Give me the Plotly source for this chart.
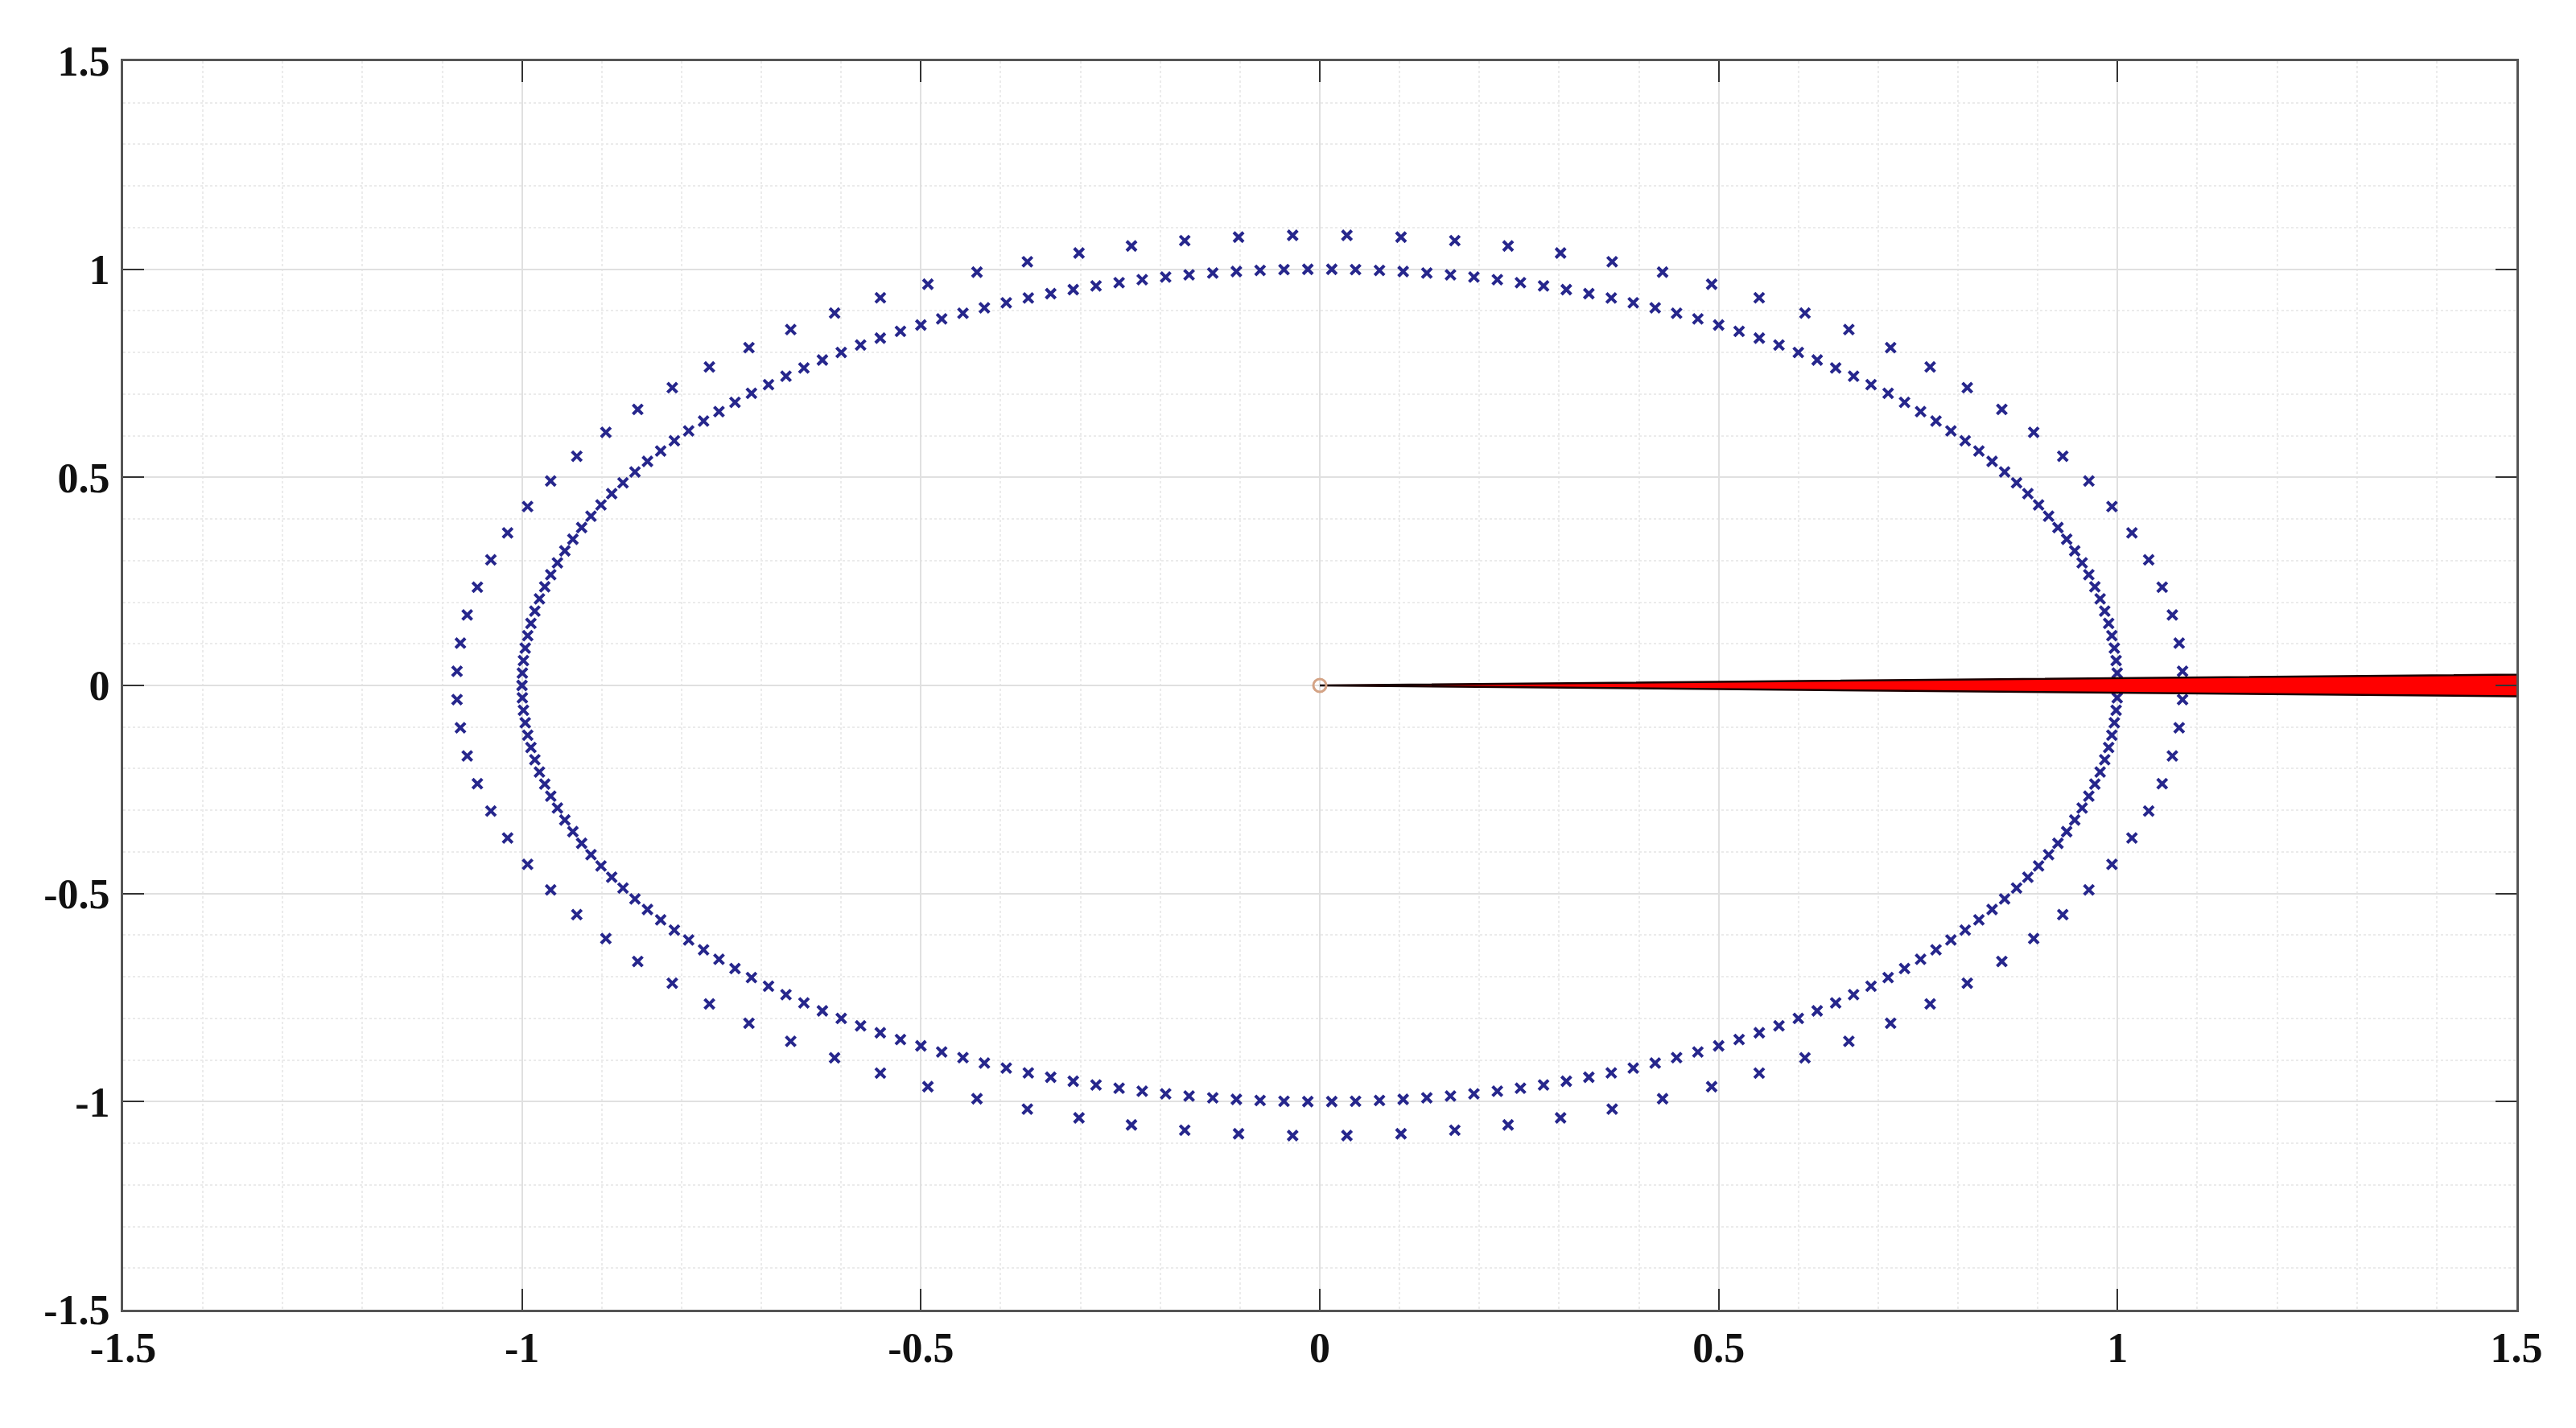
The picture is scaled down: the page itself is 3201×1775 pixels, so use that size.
import numpy as np
import plotly.graph_objects as go

# ── Data ─────────────────────────────────────────────────────────────────────

# inner ring (unit circle), angle of every marker in degrees
INNER_RADIUS = 1.0
INNER_ANGLES_DEG = [
    0.00, 1.71, 3.43, 5.14, 6.86, 8.57, 10.29,
    12.00, 13.71, 15.43, 17.14, 18.86, 20.57, 22.29,
    24.00, 25.71, 27.43, 29.14, 30.86, 32.57, 34.29,
    36.00, 37.71, 39.43, 41.14, 42.86, 44.57, 46.29,
    48.00, 49.71, 51.43, 53.14, 54.86, 56.57, 58.29,
    60.00, 61.71, 63.43, 65.14, 66.86, 68.57, 70.29,
    72.00, 73.71, 75.43, 77.14, 78.86, 80.57, 82.29,
    84.00, 85.71, 87.43, 89.14, 90.86, 92.57, 94.29,
    96.00, 97.71, 99.43, 101.14, 102.86, 104.57, 106.29,
    108.00, 109.71, 111.43, 113.14, 114.86, 116.57, 118.29,
    120.00, 121.71, 123.43, 125.14, 126.86, 128.57, 130.29,
    132.00, 133.71, 135.43, 137.14, 138.86, 140.57, 142.29,
    144.00, 145.71, 147.43, 149.14, 150.86, 152.57, 154.29,
    156.00, 157.71, 159.43, 161.14, 162.86, 164.57, 166.29,
    168.00, 169.71, 171.43, 173.14, 174.86, 176.57, 178.29,
    180.00, 181.71, 183.43, 185.14, 186.86, 188.57, 190.29,
    192.00, 193.71, 195.43, 197.14, 198.86, 200.57, 202.29,
    204.00, 205.71, 207.43, 209.14, 210.86, 212.57, 214.29,
    216.00, 217.71, 219.43, 221.14, 222.86, 224.57, 226.29,
    228.00, 229.71, 231.43, 233.14, 234.86, 236.57, 238.29,
    240.00, 241.71, 243.43, 245.14, 246.86, 248.57, 250.29,
    252.00, 253.71, 255.43, 257.14, 258.86, 260.57, 262.29,
    264.00, 265.71, 267.43, 269.14, 270.86, 272.57, 274.29,
    276.00, 277.71, 279.43, 281.14, 282.86, 284.57, 286.29,
    288.00, 289.71, 291.43, 293.14, 294.86, 296.57, 298.29,
    300.00, 301.71, 303.43, 305.14, 306.86, 308.57, 310.29,
    312.00, 313.71, 315.43, 317.14, 318.86, 320.57, 322.29,
    324.00, 325.71, 327.43, 329.14, 330.86, 332.57, 334.29,
    336.00, 337.71, 339.43, 341.14, 342.86, 344.57, 346.29,
    348.00, 349.71, 351.43, 353.14, 354.86, 356.57, 358.29,
]

# outer ring, sparser markers
OUTER_RADIUS = 1.082
OUTER_ANGLES_DEG = [
    1.8, 5.4, 9.0, 12.6, 16.2, 19.8, 23.4, 27.0, 30.6, 34.2,
    37.8, 41.4, 45.0, 48.6, 52.2, 55.8, 59.4, 63.0, 66.6, 70.2,
    73.8, 77.4, 81.0, 84.6, 88.2, 91.8, 95.4, 99.0, 102.6, 106.2,
    109.8, 113.4, 117.0, 120.6, 124.2, 127.8, 131.4, 135.0, 138.6, 142.2,
    145.8, 149.4, 153.0, 156.6, 160.2, 163.8, 167.4, 171.0, 174.6, 178.2,
    181.8, 185.4, 189.0, 192.6, 196.2, 199.8, 203.4, 207.0, 210.6, 214.2,
    217.8, 221.4, 225.0, 228.6, 232.2, 235.8, 239.4, 243.0, 246.6, 250.2,
    253.8, 257.4, 261.0, 264.6, 268.2, 271.8, 275.4, 279.0, 282.6, 286.2,
    289.8, 293.4, 297.0, 300.6, 304.2, 307.8, 311.4, 315.0, 318.6, 322.2,
    325.8, 329.4, 333.0, 336.6, 340.2, 343.8, 347.4, 351.0, 354.6, 358.2,
]

# red wedge from the origin: edge angles (deg) and length (runs off the axes)
WEDGE_ANGLES_DEG = [1.0, -1.0]
WEDGE_LENGTH = 2.0

ORIGIN = [0.0, 0.0]

X_TICKS = [-1.5, -1.0, -0.5, 0.0, 0.5, 1.0, 1.5]
X_TICK_LABELS = ["-1.5", "-1", "-0.5", "0", "0.5", "1", "1.5"]
Y_TICKS = [-1.5, -1.0, -0.5, 0.0, 0.5, 1.0, 1.5]
Y_TICK_LABELS = ["-1.5", "-1", "-0.5", "0", "0.5", "1", "1.5"]


# ── Helpers ──────────────────────────────────────────────────────────────────

def polar_to_xy(radius, angles_deg):
    a = np.radians(np.asarray(angles_deg, dtype=float))
    return radius * np.cos(a), radius * np.sin(a)


BLUE = "#26268c"
TICK_FONT = dict(family="Liberation Serif", size=52, color="#111111", weight="bold")

inner_x, inner_y = polar_to_xy(INNER_RADIUS, INNER_ANGLES_DEG)
outer_x, outer_y = polar_to_xy(OUTER_RADIUS, OUTER_ANGLES_DEG)
edge_x, edge_y = polar_to_xy(WEDGE_LENGTH, WEDGE_ANGLES_DEG)
wedge_x = [ORIGIN[0], edge_x[0], edge_x[1], ORIGIN[0]]
wedge_y = [ORIGIN[1], edge_y[0], edge_y[1], ORIGIN[1]]

fig = go.Figure()

marker_style = dict(symbol="x-thin", size=12, line=dict(color=BLUE, width=4), color=BLUE)

fig.add_trace(go.Scatter(x=outer_x, y=outer_y, mode="markers", marker=marker_style,
                         showlegend=False, hoverinfo="skip"))
fig.add_trace(go.Scatter(x=inner_x, y=inner_y, mode="markers", marker=marker_style,
                         showlegend=False, hoverinfo="skip"))

fig.add_trace(go.Scatter(x=wedge_x, y=wedge_y, mode="lines", fill="toself",
                         fillcolor="#ff0000", line=dict(color="#1a0000", width=2.5),
                         showlegend=False, hoverinfo="skip"))

fig.add_trace(go.Scatter(x=[ORIGIN[0]], y=[ORIGIN[1]], mode="markers",
                         marker=dict(symbol="circle-open", size=16, color="#d4a385",
                                     line=dict(color="#d4a385", width=3)),
                         showlegend=False, hoverinfo="skip"))

axis_common = dict(
    range=[-1.5, 1.5],
    showline=True, linecolor="#555555", linewidth=3, mirror="ticks",
    ticks="inside", ticklen=26, tickwidth=2, tickcolor="#333333",
    showgrid=True, gridcolor="#e0e0e0", gridwidth=2,
    zeroline=False,
    minor=dict(dtick=0.1, showgrid=True, gridcolor="#ebebeb", gridwidth=2, griddash="dot"),
    tickfont=TICK_FONT,
)

fig.update_xaxes(**axis_common, tickmode="array", tickvals=X_TICKS, ticktext=X_TICK_LABELS,
                 ticklabelstandoff=0)
fig.update_yaxes(**axis_common, tickmode="array", tickvals=Y_TICKS, ticktext=Y_TICK_LABELS,
                 ticklabelstandoff=3)

# the page body adds an 8px margin, so the figure is 16px smaller than the window
fig.update_layout(
    width=3185, height=1759,
    paper_bgcolor="white", plot_bgcolor="white",
    margin=dict(l=145, r=66, t=68, b=139),
)

fig.write_html("out.html")
